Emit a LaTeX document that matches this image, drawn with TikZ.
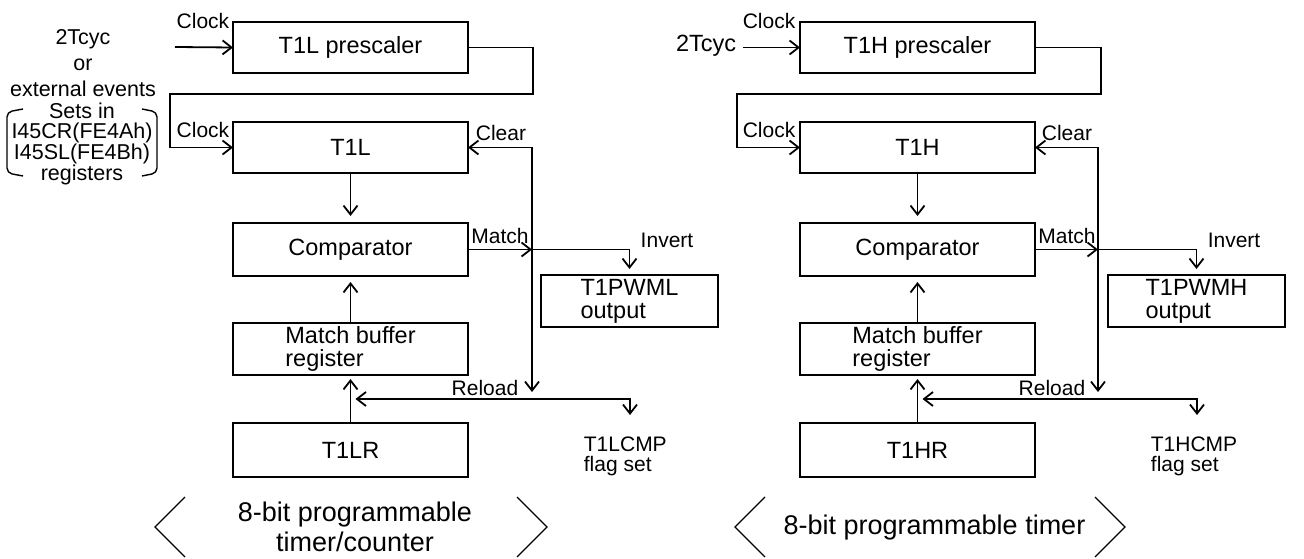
\documentclass[tikz,border=0pt]{standalone}
\usepackage{fontspec}
\setmainfont{Liberation Sans}
\usetikzlibrary{arrows.meta,calc}
\begin{document}
\begin{tikzpicture}[x=1pt,y=-1pt,
  >={Straight Barb[length=9pt,width=14pt]},
  line width=1.8pt,
  box/.style={draw, line width=1.9pt, inner sep=0pt, outer sep=0pt, anchor=north west,
    minimum width=235pt, font=\fontsize{23.5}{23}\selectfont, align=center},
  pwmbox/.style={box, minimum width=177pt, minimum height=52pt, align=left},
  lbl/.style={inner sep=0pt, font=\fontsize{21}{20}\selectfont},
  flagtxt/.style={lbl, align=left, anchor=west},
  srctxt/.style={inner sep=0pt, align=center},
  big/.style={inner sep=0pt, font=\fontsize{27}{30}\selectfont, align=center},
  thinline/.style={line width=1.1pt},
  brk/.style={line width=1.4pt, rounded corners=5pt}]
\useasboundingbox (0,0) rectangle (1304,559);

% ================= left half =================
\node[box, minimum height=51pt] (Lpre) at (233,22) {T1L prescaler};
\node[box, minimum height=51pt] (Lt)   at (233,122) {T1L};
\node[box, minimum height=53pt] (Lcmp) at (233,223) {Comparator};
\node[box, minimum height=52pt, align=left] (Lmbr) at (233,323) {Match buffer\\register};
\node[box, minimum height=54pt] (Lr)   at (233,423) {T1LR};
\node[pwmbox] (Lpwm) at (541,275) {T1PWML\\output};

\node[srctxt, font=\fontsize{21.5}{26}\selectfont] (Lsrc) at (83,63) {2Tcyc\\or\\external events};
\node[srctxt, font=\fontsize{21.5}{19.5}\selectfont] (Lsets) at (82,144) {Sets in\\I45CR(FE4Ah)\\I45SL(FE4Bh)\\registers};
\draw[brk] (23,109) -- (7,112) -- (7,173) -- (23,176);
\draw[brk] (142,109) -- (157,112) -- (157,173) -- (142,176);

\node[lbl] (Lck1) at (203,21) {Clock};
\node[lbl] (Lck2) at (203,130) {Clock};
\node[lbl] (Lclrl) at (501,133) {Clear};
\node[lbl] (Lmatch) at (500,236) {Match};
\node[lbl] (Linv) at (667,240) {Invert};
\node[lbl] (Lrld) at (485,388) {Reload};
\node[flagtxt] (Lflag) at (583,456) {T1LCMP\\flag set};

\coordinate (Lin) at (175,47);
\coordinate (Lloop) at (533,94);
\coordinate (Lloopl) at (170,94);
\coordinate (Lclr) at (532,392);
\coordinate (Lrel) at (630,399);
\coordinate (Lflg) at (630,415);

\draw[->] (Lin) -- (Lpre.west);
\draw[->] (Lpre.east) -| (Lloop) -- (Lloopl) |- (Lt.west);
\draw[<->] (Lt.east) -- (Lt.east -| Lclr) -- (Lclr);
\draw[->, shorten >=7pt] (Lt.south) -- (Lcmp.north);
\draw[->] (Lcmp.east) -- (Lcmp.east -| Lclr);
\draw[->, shorten >=6pt] (Lcmp.east -| Lclr) -| (Lpwm.north);
\draw[->, shorten >=6pt] (Lmbr.north) -- (Lcmp.south);
\draw[->, shorten >=4pt] (Lr.north) -- (Lmbr.south);
\draw[<->, shorten <=5pt] (Lr.north |- Lrel) -- (Lrel) -- (Lflg);

\draw[thinline] (185,497) -- (155,527) -- (185,557);
\draw[thinline] (517,497) -- (547,527) -- (517,557);
\node[big] (Lttl) at (355,527) {8-bit programmable\\timer/counter};

% ================= right half =================
\node[box, minimum height=51pt] (Hpre) at (800,22) {T1H prescaler};
\node[box, minimum height=51pt] (Ht)   at (800,122) {T1H};
\node[box, minimum height=53pt] (Hcmp) at (800,223) {Comparator};
\node[box, minimum height=52pt, align=left] (Hmbr) at (800,323) {Match buffer\\register};
\node[box, minimum height=54pt] (Hr)   at (800,423) {T1HR};
\node[pwmbox] (Hpwm) at (1108,275) {T1PWMH\\output};

\node[lbl, anchor=east, font=\fontsize{23.5}{23}\selectfont] (H2t) at (737,46) {2Tcyc};
\node[lbl] (Hck1) at (769,21) {Clock};
\node[lbl] (Hck2) at (769,130) {Clock};
\node[lbl] (Hclrl) at (1067,133) {Clear};
\node[lbl] (Hmatch) at (1067,236) {Match};
\node[lbl] (Hinv) at (1234,240) {Invert};
\node[lbl] (Hrld) at (1052,388) {Reload};
\node[flagtxt] (Hflag) at (1150,456) {T1HCMP\\flag set};

\coordinate (Hloop) at (1101,94);
\coordinate (Hloopl) at (737,94);
\coordinate (Hclr) at (1098,392);
\coordinate (Hrel) at (1197,399);
\coordinate (Hflg) at (1197,415);

\draw[->, shorten <=6pt] (H2t.east |- Hpre.west) -- (Hpre.west);
\draw[->] (Hpre.east) -| (Hloop) -- (Hloopl) |- (Ht.west);
\draw[<->] (Ht.east) -- (Ht.east -| Hclr) -- (Hclr);
\draw[->, shorten >=7pt] (Ht.south) -- (Hcmp.north);
\draw[->] (Hcmp.east) -- (Hcmp.east -| Hclr);
\draw[->, shorten >=6pt] (Hcmp.east -| Hclr) -| (Hpwm.north);
\draw[->, shorten >=6pt] (Hmbr.north) -- (Hcmp.south);
\draw[->, shorten >=4pt] (Hr.north) -- (Hmbr.south);
\draw[<->, shorten <=5pt] (Hr.north |- Hrel) -- (Hrel) -- (Hflg);

\draw[thinline] (765,497) -- (735,527) -- (765,557);
\draw[thinline] (1095,497) -- (1125,527) -- (1095,557);
\node[big] (Httl) at (934.5,528) {8-bit programmable timer};
\end{tikzpicture}
\end{document}
